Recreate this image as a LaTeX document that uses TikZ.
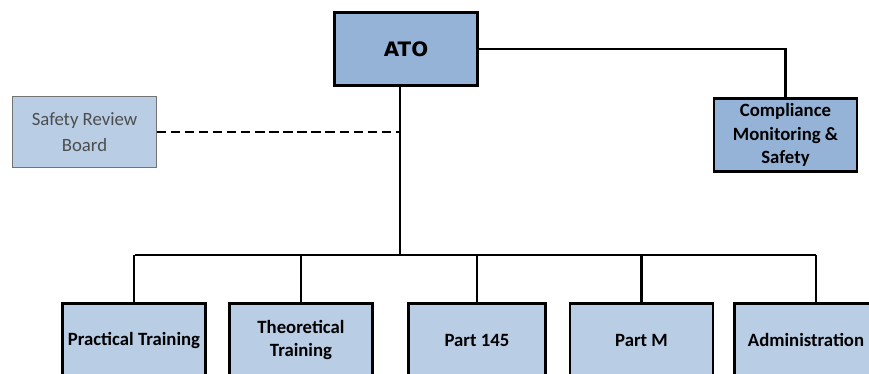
\documentclass[tikz,border=0pt]{standalone}
\usepackage{fontspec}
\setmainfont{Carlito}
\newfontfamily\atofont{DejaVu Sans}
\usetikzlibrary{positioning}
\definecolor{darkblue}{HTML}{95B3D7}
\definecolor{lightblue}{HTML}{B9CDE5}
\definecolor{boardgray}{HTML}{4D4D4D}
\tikzset{
  unit/.style={draw=black, line width=2.2pt, fill=lightblue, minimum width=4.3cm,
    minimum height=2.2cm, align=center, inner sep=1pt,
    font=\fontsize{16}{20}\selectfont\bfseries},
  topbox/.style={unit, fill=darkblue},
  board/.style={unit, draw=black!55, line width=1pt, text=boardgray,
    minimum height=2.12cm, font=\fontsize{16}{22}\selectfont},
  link/.style={line width=2pt}
}
\begin{document}
\begin{tikzpicture}[x=0.03cm,y=-0.03cm]
\clip (0,0) rectangle (869,374);
\node[topbox, font=\atofont\bfseries\fontsize{17}{18}\selectfont] (ato) at (406,49) {ATO};
\node[board] (srb) at (84.5,132) {Safety Review\\Board};
\node[topbox] (cms) at (785.5,135) {Compliance\\Monitoring \&\\Safety};
\node[unit] (pt) at (134,340) {Practical Training};
\node[unit] (tt) at (301,340) {Theoretical\\Training};
\node[unit, minimum width=4.1cm] (p145) at (477,340) {Part 145};
\node[unit] (pm) at (641.5,340) {Part M};
\node[unit] (adm) at (806,340) {Administration};
\coordinate (trunk) at (400,86);
\coordinate (busl) at (135,255);
\coordinate (busr) at (816,255);
\draw[link] (trunk) -- (trunk |- busl);
\draw[link] (busl) -- (busr);
\draw[link] (ato.east) -| (cms.north);
\draw[link, dash pattern=on 8pt off 4pt] (srb.east) -- (srb.east -| trunk);
\foreach \n in {pt,tt,p145,pm}
  \draw[link] (\n.north) -- (\n.north |- busl);
\draw[link] (busr) -- (busr |- adm.north);
\end{tikzpicture}
\end{document}
